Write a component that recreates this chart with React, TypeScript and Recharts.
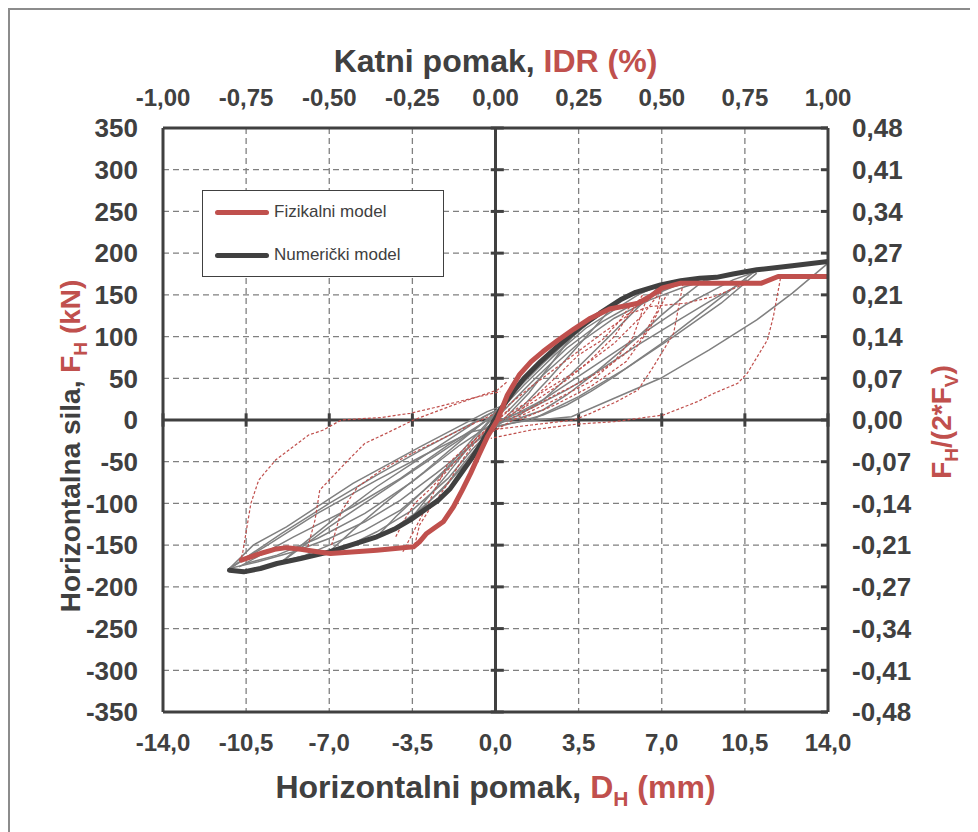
import React from "react";
import {
  LineChart,
  Line,
  XAxis,
  YAxis,
  CartesianGrid,
  ReferenceLine,
  Legend,
  Label,
} from "recharts";

// axis ticks
const xTicks = [-14, -10.5, -7, -3.5, 0, 3.5, 7, 10.5, 14];
const idrTicks = [-1, -0.75, -0.5, -0.25, 0, 0.25, 0.5, 0.75, 1];
const yTicks = [-350, -300, -250, -200, -150, -100, -50, 0, 50, 100, 150, 200, 250, 300, 350];
const ratioLabels = [
  "-0,48", "-0,41", "-0,34", "-0,27", "-0,21", "-0,14", "-0,07", "0,00",
  "0,07", "0,14", "0,21", "0,27", "0,34", "0,41", "0,48",
];

// envelopes [D_H mm, F_H kN]
const numEnvelope = [
  [-11.2, -180], [-10.6, -182], [-9.9, -178], [-9.2, -172], [-8.2, -166], [-7, -158],
  [-6, -149], [-5, -140], [-4.2, -130], [-3.6, -120], [-3, -108], [-2.4, -96],
  [-1.9, -82], [-1.5, -66], [-1, -46], [-0.6, -28], [-0.2, -8], [0.2, 12], [0.7, 32],
  [1.2, 50], [1.9, 70], [2.6, 88], [3.6, 112], [4.4, 128], [5.26, 144], [5.9, 153],
  [6.95, 162], [7.8, 167], [8.6, 170], [9.3, 171], [10, 175], [11, 180], [12.5, 185],
  [14, 190],
];
const physEnvelope = [
  [-10.7, -168], [-10.3, -164], [-9.9, -160], [-9.3, -155], [-8.8, -153], [-8.2, -155],
  [-7.5, -158], [-6.95, -160], [-5, -156], [-3.45, -152], [-3.2, -146], [-2.9, -136],
  [-2.5, -128], [-2.2, -122], [-1.77, -104], [-1.4, -84], [-1.05, -64], [-0.7, -42],
  [-0.34, -20], [0.08, 0], [0.5, 30], [1, 54], [1.5, 70], [2, 82], [2.6, 95],
  [3.3, 109], [4, 122], [4.8, 133], [5.5, 137], [6, 140], [6.5, 148], [7, 158],
  [7.8, 164], [11.2, 164], [11.9, 172], [14, 172],
];

// numerical model cycles (grey)
const numCycle1 = [
  [0.2, 14], [1, 42], [2, 70], [3, 96], [3.6, 112], [3, 92], [2.2, 62], [1.4, 32],
  [0.6, 8], [0, -8], [-1, -40], [-2, -75], [-3, -104], [-3.6, -120], [-3, -98],
  [-2, -64], [-1, -28], [0.2, 14],
];
const numCycle2 = [
  [0.2, 14], [1, 40], [2, 68], [3, 94], [4, 118], [5.1, 141], [4.2, 112], [3.2, 80],
  [2.2, 48], [1.2, 18], [0.4, 0], [-0.3, -15], [-1.2, -50], [-2.2, -82], [-3.2, -108],
  [-4.2, -128], [-5, -140], [-4.2, -116], [-3, -84], [-2, -56], [-1, -24], [0.2, 14],
];
const numCycle3 = [
  [0.2, 12], [1.2, 42], [2.5, 78], [3.8, 110], [5, 132], [6, 150], [7, 163], [6, 135],
  [5, 106], [4, 78], [3, 50], [2, 24], [1, 6], [0, -6], [-1, -36], [-2, -70],
  [-3.5, -108], [-5, -134], [-6, -148], [-7, -158], [-6, -132], [-4.5, -96], [-3, -62],
  [-1.5, -26], [0.2, 14],
];
const numCycle4 = [
  [0.3, 10], [1.5, 45], [3, 86], [4.5, 118], [6, 142], [7.5, 160], [9, 172], [8, 150],
  [7, 126], [6, 100], [5, 76], [4, 52], [3, 30], [2, 12], [1, 2], [0, -4], [-1, -30],
  [-2.5, -72], [-4, -108], [-5.5, -132], [-7, -150], [-8, -162], [-9, -170],
  [-8, -146], [-6.5, -112], [-5, -80], [-3.5, -52], [-2, -24], [-0.5, 4], [0.2, 14],
];
const numCycle5 = [
  [0.5, 10], [2, 54], [3.5, 92], [5, 122], [6.5, 144], [8, 160], [9.5, 172], [11, 180],
  [10, 158], [9, 136], [8, 114], [7, 92], [6, 72], [5, 52], [4, 34], [3, 18], [2, 6],
  [1, -2], [0, -8], [-1, -30], [-2.5, -64], [-4, -96], [-5.5, -122], [-7, -142],
  [-8.5, -158], [-10, -170], [-11.2, -178], [-10.2, -150], [-8.8, -128], [-6, -76],
  [-3.16, -32], [-0.35, 10], [0.2, 16],
];
const numCycle6 = [
  [-11.2, -178], [-9.6, -150], [-7.5, -112], [-5, -72], [-3, -42], [-1, -14], [1, -2],
  [3.2, 4], [5, 26], [6.95, 50], [9, 84], [11, 120], [12.5, 152], [14, 188],
];
const numCycle7 = [
  [10.6, 168], [9, 142], [7.5, 116], [6, 90], [4.5, 62], [3, 36], [1.5, 14], [0, -2],
  [-1.5, -30], [-3.5, -74], [-5.5, -112], [-7.5, -142], [-9.2, -162], [-10.5, -172],
];
const numCycle8 = [
  [-11.2, -178], [-9, -136], [-7, -100], [-5, -66], [-3, -34], [-1, -4], [0.2, 14],
];
const numCycle9 = [
  [-10.8, -176], [-8.5, -140], [-6, -104], [-4, -70], [-2, -30], [0, 6], [0.3, 14],
];
const numCycle10 = [
  [-9, -170], [-7, -128], [-5, -90], [-3, -52], [-1, -14], [0.2, 12],
];
const numCycle11 = [
  [0.5, 2], [2, 24], [4, 62], [6, 100], [8, 138], [10, 168], [11, 178],
];
const numCycle12 = [
  [1.5, 0], [3.5, 28], [5.5, 62], [7.5, 100], [9.5, 140], [11, 176],
];

// physical model cycles (red dashed)
const physCycle1 = [
  [-10.7, -165], [-10.65, -160], [-10.3, -100], [-9.97, -72], [-9.26, -48], [-7.87, -18],
  [-7.24, -12], [-6.5, 0], [-4.8, 3], [-3.6, 8], [-2.4, 16], [-1, 26], [0.2, 34],
];
const physCycle2 = [
  [-7.9, -152], [-7.6, -120], [-7.4, -84], [-6.2, -48], [-5.5, -28], [-4.6, -16],
  [-3.45, 0], [-1.77, 18], [0.08, 36], [0.5, 46],
];
const physCycle3 = [
  [-3.9, -158], [-2.9, -104], [-2, -52], [-0.9, -24], [0.1, 0], [0.6, 14],
];
const physCycle4 = [
  [-6.9, -150], [-6.5, -110], [-5.8, -80], [-4.8, -60], [-3.8, -44], [-2.8, -30],
  [-1.5, -12], [0, 8], [0.5, 20],
];
const physCycle5 = [
  [-3.4, -150], [-3.2, -126], [-2.8, -108], [-2.4, -92], [-2, -76], [-1.5, -52],
  [-1, -32], [-0.4, -12], [0.3, 6],
];
const physCycle6 = [
  [-4.2, -140], [-3.8, -118], [-3.4, -100], [-2.8, -84], [-2.2, -66], [-1.5, -44],
  [-0.8, -22], [0, -2], [0.6, 12],
];
const physCycle7 = [
  [12, 170], [11.7, 124], [11.45, 96], [10.6, 56], [10.2, 44], [9.2, 32], [8.5, 22],
  [7.07, 6], [5, -2], [3.4, -5], [1.5, -12], [-0.2, -22],
];
const physCycle8 = [
  [7.9, 164], [7.5, 104], [6.65, 64], [6, 36], [5.1, 22], [4, 8], [3.3, 0], [1.5, -6],
  [-0.2, -12],
];
const physCycle9 = [
  [7, 160], [6.8, 130], [6.2, 100], [5.4, 78], [4.5, 60], [3.5, 44], [2.5, 30],
  [1.5, 14], [0.5, 0],
];
const physCycle10 = [
  [5.5, 126], [6.5, 136], [8, 140], [9.2, 148], [10.6, 164],
];
const physCycle11 = [
  [0.2, 10], [1.5, 40], [3, 72], [4.5, 104], [5.5, 124], [6, 138],
];
const physCycle12 = [
  [0, -4], [1.5, 20], [3, 48], [4, 72], [5, 100], [5.7, 130], [6.2, 150],
];
const physCycle13 = [
  [1, 10], [2.5, 50], [3.5, 78], [4.5, 96], [5.2, 118], [5.6, 134], [6, 140],
];
const physCycle14 = [
  [-0.5, -20], [1, 4], [2.5, 24], [4, 46], [5, 70], [5.8, 100], [6.3, 140], [6.6, 150],
];
const physCycle15 = [
  [0.5, 6], [2, 34], [3.5, 60], [5, 92], [6.2, 126], [7, 156],
];
const physCycle16 = [
  [1, 0], [2.5, 18], [4, 40], [5.5, 70], [6.5, 110], [7.2, 150],
];

const numCycles = [
  numCycle1, numCycle2, numCycle3, numCycle4, numCycle5, numCycle6, numCycle7,
  numCycle8, numCycle9, numCycle10, numCycle11, numCycle12,
];
const physCycles = [
  physCycle1, physCycle2, physCycle3, physCycle4, physCycle5, physCycle6, physCycle7,
  physCycle8, physCycle9, physCycle10, physCycle11, physCycle12, physCycle13, physCycle14,
  physCycle15, physCycle16,
];

const legendItems = [
  { name: "Fizikalni model", color: "#c0504d" },
  { name: "Numerički model", color: "#404040" },
];

const red = "#c0504d";
const dark = "#404040";
const gray = "#808080";
const font = "'Liberation Sans', Arial, sans-serif";

const toPoints = (pairs: number[][]) => pairs.map(([x, y]) => ({ x, y }));

const xTickStyle = { fontFamily: font, fontWeight: "bold", fontSize: 24, fill: dark };
const yTickStyle = { fontFamily: font, fontWeight: "bold", fontSize: 26, fill: dark };
const axisLine = { stroke: dark, strokeWidth: 3 };

const renderLegend = () => (
  <div
    style={{
      width: 242,
      height: 87,
      border: "1px solid #404040",
      background: "#fff",
      boxSizing: "border-box",
      fontFamily: font,
      fontSize: 17,
      color: dark,
      position: "relative",
    }}
  >
    {legendItems.map((item, i) => (
      <div
        key={item.name}
        style={{ position: "absolute", left: 12, top: 11 + i * 43, display: "flex", alignItems: "center" }}
      >
        <div style={{ width: 54, height: 5, borderRadius: 3, background: item.color, marginRight: 5 }} />
        <span>{item.name}</span>
      </div>
    ))}
  </div>
);

const App = () => {
  return (
    <div
      style={{
        position: "relative",
        width: 960,
        height: 822,
        border: "2px solid #8c8c8c",
        borderBottom: "none",
        background: "#fff",
      }}
    >
      <LineChart width={960} height={820} margin={{ top: 0, right: 0, bottom: 0, left: 0 }}>
        <CartesianGrid stroke={gray} strokeDasharray="6 4" strokeWidth={1.3} />
        <XAxis
          type="number"
          dataKey="x"
          domain={[-14, 14]}
          ticks={xTicks}
          height={118}
          tickSize={0}
          tickMargin={22}
          tick={xTickStyle}
          axisLine={axisLine}
          tickFormatter={(v: number) => v.toFixed(1).replace(".", ",")}
          allowDataOverflow
        >
          <Label
            content={({ viewBox }: any) => (
              <text
                x={viewBox.x + viewBox.width / 2}
                y={viewBox.y + 86}
                textAnchor="middle"
                fontFamily={font}
                fontWeight="bold"
                fontSize={32}
                fill={dark}
              >
                <tspan>Horizontalni pomak, </tspan>
                <tspan fill={red}>D</tspan>
                <tspan fill={red} fontSize={21} dy={8}>H</tspan>
                <tspan fill={red} dy={-8}> (mm)</tspan>
              </text>
            )}
          />
        </XAxis>
        <XAxis
          xAxisId="top"
          orientation="top"
          type="number"
          dataKey="x"
          domain={[-1, 1]}
          ticks={idrTicks}
          height={118}
          tickSize={0}
          tickMargin={22}
          tick={xTickStyle}
          axisLine={axisLine}
          tickFormatter={(v: number) => v.toFixed(2).replace(".", ",")}
          allowDataOverflow
        >
          <Label
            content={({ viewBox }: any) => (
              <text
                x={viewBox.x + viewBox.width / 2}
                y={62}
                textAnchor="middle"
                fontFamily={font}
                fontWeight="bold"
                fontSize={32}
                fill={dark}
              >
                <tspan>Katni pomak, </tspan>
                <tspan fill={red}>IDR (%)</tspan>
              </text>
            )}
          />
        </XAxis>
        <YAxis
          type="number"
          domain={[-350, 350]}
          ticks={yTicks}
          width={153}
          tickSize={0}
          tickMargin={25}
          tick={yTickStyle}
          axisLine={axisLine}
          allowDataOverflow
        >
          <Label
            content={() => (
              <text
                x={70}
                y={436}
                transform="rotate(-90, 70, 436)"
                textAnchor="middle"
                fontFamily={font}
                fontWeight="bold"
                fontSize={28}
                fill={dark}
              >
                <tspan>Horizontalna sila, </tspan>
                <tspan fill={red}>F</tspan>
                <tspan fill={red} fontSize={19} dy={7}>H</tspan>
                <tspan fill={red} dy={-7}> (kN)</tspan>
              </text>
            )}
          />
        </YAxis>
        <YAxis
          yAxisId="right"
          orientation="right"
          type="number"
          domain={[-350, 350]}
          ticks={yTicks}
          width={142}
          tickSize={0}
          tickMargin={24}
          tick={{ ...yTickStyle, textAnchor: "start" }}
          axisLine={axisLine}
          tickFormatter={(v: number) => ratioLabels[yTicks.indexOf(v)]}
          allowDataOverflow
        >
          <Label
            content={() => (
              <text
                x={941}
                y={412}
                transform="rotate(-90, 941, 412)"
                textAnchor="middle"
                fontFamily={font}
                fontWeight="bold"
                fontSize={28}
                fill={red}
              >
                <tspan>F</tspan>
                <tspan fontSize={19} dy={7}>H</tspan>
                <tspan dy={-7}>/(2*F</tspan>
                <tspan fontSize={19} dy={7}>V</tspan>
                <tspan dy={-7}>)</tspan>
              </text>
            )}
          />
        </YAxis>

        <ReferenceLine x={0} stroke={dark} strokeWidth={3} />
        <ReferenceLine y={0} stroke={dark} strokeWidth={3} />
        {yTicks.map((v) => (
          <ReferenceLine
            key={`yt${v}`}
            segment={[{ x: -0.2, y: v }, { x: 0.35, y: v }]}
            stroke={dark}
            strokeWidth={3}
          />
        ))}
        {yTicks.map((v) => (
          <ReferenceLine
            key={`rt${v}`}
            segment={[{ x: 13.7, y: v }, { x: 14, y: v }]}
            stroke={dark}
            strokeWidth={3}
          />
        ))}
        {xTicks.map((v) => (
          <ReferenceLine
            key={`xt${v}`}
            segment={[{ x: v, y: -8 }, { x: v, y: 8 }]}
            stroke={dark}
            strokeWidth={3}
          />
        ))}

        {/* invisible carrier so the IDR axis gets its ticks */}
        <Line
          xAxisId="top"
          data={idrTicks.map((t) => ({ x: t, y: 0 }))}
          dataKey="y"
          stroke="none"
          dot={false}
          legendType="none"
          isAnimationActive={false}
        />

        {numCycles.map((c, i) => (
          <Line
            key={`n${i}`}
            data={toPoints(c)}
            dataKey="y"
            type="linear"
            stroke={gray}
            strokeWidth={1.5}
            dot={false}
            legendType="none"
            isAnimationActive={false}
          />
        ))}
        {physCycles.map((c, i) => (
          <Line
            key={`p${i}`}
            data={toPoints(c)}
            dataKey="y"
            type="linear"
            stroke={red}
            strokeWidth={1.2}
            strokeDasharray="3 2"
            dot={false}
            legendType="none"
            isAnimationActive={false}
          />
        ))}
        <Line
          data={toPoints(numEnvelope)}
          dataKey="y"
          type="linear"
          stroke={dark}
          strokeWidth={5}
          strokeLinecap="round"
          strokeLinejoin="round"
          dot={false}
          isAnimationActive={false}
        />
        <Line
          data={toPoints(physEnvelope)}
          dataKey="y"
          type="linear"
          stroke={red}
          strokeWidth={5}
          strokeLinecap="round"
          strokeLinejoin="round"
          dot={false}
          isAnimationActive={false}
        />
        <Legend
          layout="horizontal"
          verticalAlign="middle"
          align="center"
          content={renderLegend}
          wrapperStyle={{ left: 192, top: 180, width: 242, height: 87 }}
        />
      </LineChart>
    </div>
  );
};

export default App;
